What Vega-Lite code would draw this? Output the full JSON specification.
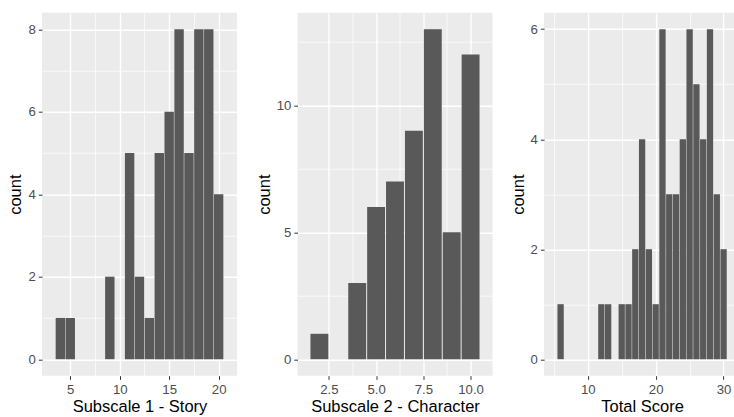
{
  "$schema": "https://vega.github.io/schema/vega-lite/v6.json",
  "background": "white",
  "padding": {"left": 7, "top": 12.7, "right": 0, "bottom": 0},
  "datasets": {
    "story": [
      {"score": 4, "count": 1}, {"score": 5, "count": 1}, {"score": 9, "count": 2},
      {"score": 11, "count": 5}, {"score": 12, "count": 2}, {"score": 13, "count": 1},
      {"score": 14, "count": 5}, {"score": 15, "count": 6}, {"score": 16, "count": 8},
      {"score": 17, "count": 5}, {"score": 18, "count": 8}, {"score": 19, "count": 8},
      {"score": 20, "count": 4}
    ],
    "character": [
      {"score": 2, "count": 1}, {"score": 4, "count": 3}, {"score": 5, "count": 6},
      {"score": 6, "count": 7}, {"score": 7, "count": 9}, {"score": 8, "count": 13},
      {"score": 9, "count": 5}, {"score": 10, "count": 12}
    ],
    "total": [
      {"score": 6, "count": 1}, {"score": 12, "count": 1}, {"score": 13, "count": 1},
      {"score": 15, "count": 1}, {"score": 16, "count": 1}, {"score": 17, "count": 2},
      {"score": 18, "count": 4}, {"score": 19, "count": 2}, {"score": 20, "count": 1},
      {"score": 21, "count": 6}, {"score": 22, "count": 3}, {"score": 23, "count": 3},
      {"score": 24, "count": 4}, {"score": 25, "count": 6}, {"score": 26, "count": 5},
      {"score": 27, "count": 4}, {"score": 28, "count": 6}, {"score": 29, "count": 3},
      {"score": 30, "count": 2}
    ]
  },
  "bounds": "flush",
  "spacing": 60.5,
  "hconcat": [
    {
      "width": 195, "height": 363,
      "data": {"name": "story"},
      "mark": {"type": "bar", "width": 9.4, "color": "#595959"},
      "encoding": {
        "x": {"field": "score", "type": "quantitative",
          "scale": {"domain": [2.65, 21.35], "nice": false, "zero": false},
          "axis": {"title": "Subscale 1 - Story", "values": [5, 7.5, 10, 12.5, 15, 17.5, 20],
            "labelExpr": "datum.value % 5 === 0 ? datum.label : ''",
            "gridWidth": {"condition": {"test": "datum.value % 5 === 0", "value": 1.4}, "value": 0.7},
            "tickOpacity": {"condition": {"test": "datum.value % 5 === 0", "value": 1}, "value": 0}}},
        "y": {"field": "count", "type": "quantitative",
          "scale": {"domain": [-0.4, 8.4], "nice": false, "zero": false},
          "axis": {"title": "count", "values": [0, 1, 2, 3, 4, 5, 6, 7, 8],
            "labelExpr": "datum.value % 2 === 0 ? datum.label : ''",
            "gridWidth": {"condition": {"test": "datum.value % 2 === 0", "value": 1.4}, "value": 0.7},
            "tickOpacity": {"condition": {"test": "datum.value % 2 === 0", "value": 1}, "value": 0}}}
      }
    },
    {
      "bounds": "flush",
      "spacing": 51.6,
      "hconcat": [
        {
          "width": 195, "height": 363,
          "data": {"name": "character"},
          "mark": {"type": "bar", "width": 17.9, "color": "#595959"},
          "encoding": {
            "x": {"field": "score", "type": "quantitative",
              "scale": {"domain": [1.105, 10.895], "nice": false, "zero": false},
              "axis": {"title": "Subscale 2 - Character", "values": [2.5, 3.75, 5, 6.25, 7.5, 8.75, 10],
                "labelExpr": "datum.value % 2.5 === 0 ? format(datum.value, '.1f') : ''",
                "gridWidth": {"condition": {"test": "datum.value % 2.5 === 0", "value": 1.4}, "value": 0.7},
                "tickOpacity": {"condition": {"test": "datum.value % 2.5 === 0", "value": 1}, "value": 0}}},
            "y": {"field": "count", "type": "quantitative",
              "scale": {"domain": [-0.65, 13.65], "nice": false, "zero": false},
              "axis": {"title": "count", "values": [0, 2.5, 5, 7.5, 10, 12.5],
                "labelExpr": "datum.value % 5 === 0 ? datum.label : ''",
                "gridWidth": {"condition": {"test": "datum.value % 5 === 0", "value": 1.4}, "value": 0.7},
                "tickOpacity": {"condition": {"test": "datum.value % 5 === 0", "value": 1}, "value": 0}}}
          }
        },
        {
          "width": 196, "height": 363,
          "data": {"name": "total"},
          "mark": {"type": "bar", "width": 6.3, "color": "#595959"},
          "encoding": {
            "x": {"field": "score", "type": "quantitative",
              "scale": {"domain": [4.305, 31.695], "nice": false, "zero": false},
              "axis": {"title": "Total Score", "values": [5, 10, 15, 20, 25, 30],
                "labelExpr": "datum.value % 10 === 0 ? datum.label : ''",
                "gridWidth": {"condition": {"test": "datum.value % 10 === 0", "value": 1.4}, "value": 0.7},
                "tickOpacity": {"condition": {"test": "datum.value % 10 === 0", "value": 1}, "value": 0}}},
            "y": {"field": "count", "type": "quantitative",
              "scale": {"domain": [-0.3, 6.3], "nice": false, "zero": false},
              "axis": {"title": "count", "values": [0, 1, 2, 3, 4, 5, 6],
                "labelExpr": "datum.value % 2 === 0 ? datum.label : ''",
                "gridWidth": {"condition": {"test": "datum.value % 2 === 0", "value": 1.4}, "value": 0.7},
                "tickOpacity": {"condition": {"test": "datum.value % 2 === 0", "value": 1}, "value": 0}}}
          }
        }
      ]
    }
  ],
  "config": {
    "view": {"fill": "#EBEBEB", "stroke": null},
    "axis": {
      "domain": false, "gridColor": "#FFFFFF", "tickColor": "#333333", "tickSize": 3.7, "tickWidth": 1,
      "labelColor": "#4D4D4D", "labelFont": "Liberation Sans", "labelFontSize": 13.2,
      "labelOverlap": false, "labelFlush": false, "labelPadding": 3,
      "titleFont": "Liberation Sans", "titleFontSize": 16.5, "titleFontWeight": "normal", "titleColor": "#000000",
      "titlePadding": 4
    },
    "axisX": {"labelPadding": 4, "titlePadding": 3}
  }
}
